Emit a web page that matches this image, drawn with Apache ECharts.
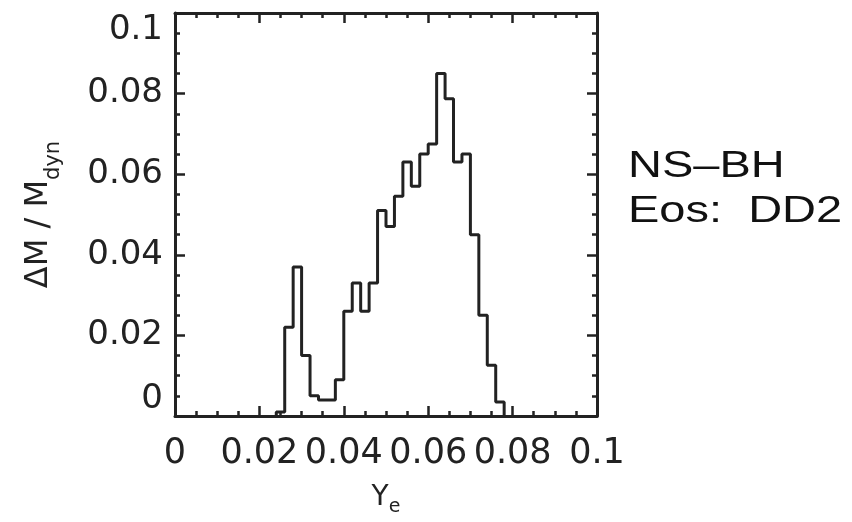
<!DOCTYPE html>
<html>
<head>
<meta charset="utf-8">
<script src="https://cdn.jsdelivr.net/npm/echarts@6/dist/echarts.min.js"></script>
<style>
  html, body { margin: 0; padding: 0; background: #fff; }
  #chart { width: 852px; height: 522px; }
</style>
</head>
<body>
<div id="chart"></div>
<script>
// left edges of the Ye bins (bin width 0.002)
const binStarts = [0.024, 0.026, 0.028, 0.030, 0.032, 0.034, 0.036, 0.038, 0.040, 0.042,
  0.044, 0.046, 0.048, 0.050, 0.052, 0.054, 0.056, 0.058, 0.060, 0.062,
  0.064, 0.066, 0.068, 0.070, 0.072, 0.074, 0.076]
const binEnd = 0.078
// dM / Mdyn per bin
const massFrac = [0.001, 0.022, 0.037, 0.015, 0.005, 0.004, 0.004, 0.009, 0.026, 0.033,
  0.026, 0.033, 0.051, 0.047, 0.0545, 0.063, 0.057, 0.065, 0.0675, 0.085,
  0.0787, 0.063, 0.065, 0.045, 0.025, 0.0126, 0.0035]
const tickLabels = { 0: '0', 0.02: '0.02', 0.04: '0.04', 0.06: '0.06', 0.08: '0.08', 0.1: '0.1' }

const ink = '#222'

// step outline: start on the baseline, one point per bin, back down at the end
const histData = [[binStarts[0], 0]]
binStarts.forEach((x, i) => histData.push([x, massFrac[i]]))
histData.push([binEnd, 0])

const fmt = (v) => tickLabels[+v.toFixed(2)] || ''

function frameAxis(extra) {
  return Object.assign({
    type: 'value',
    min: 0,
    max: 0.1,
    interval: 0.02,
    axisLine: { show: true, onZero: false, lineStyle: { color: ink, width: 3 } },
    axisTick: { show: true, inside: true, length: 10, lineStyle: { color: ink, width: 2.5 } },
    minorTick: { show: true, splitNumber: 4, length: 5, lineStyle: { color: ink, width: 2.5 } },
    splitLine: { show: false },
    axisLabel: { show: false }
  }, extra)
}

const chart = echarts.init(document.getElementById('chart'))
chart.setOption({
  animation: false,
  grid: { left: 175, right: 255, top: 13, bottom: 105 },
  xAxis: [
    frameAxis({
      position: 'bottom',
      axisLabel: {
        show: true,
        margin: 20,
        color: ink,
        fontFamily: 'DejaVu Sans',
        fontSize: 35,
        showMinLabel: true,
        showMaxLabel: true,
        formatter: fmt
      },
      name: '{m|Y}{s|e}',
      nameLocation: 'middle',
      nameGap: 68,
      nameTextStyle: {
        rich: {
          m: { fontFamily: 'DejaVu Sans', fontSize: 28, color: ink, verticalAlign: 'top', lineHeight: 28 },
          s: { fontFamily: 'DejaVu Sans', fontSize: 19, color: ink, verticalAlign: 'top', lineHeight: 19, padding: [14, 0, 0, 0] }
        }
      }
    }),
    frameAxis({ position: 'top' })
  ],
  yAxis: [
    frameAxis({
      position: 'left',
      axisLabel: {
        show: true,
        margin: 12,
        color: ink,
        fontFamily: 'DejaVu Sans',
        fontSize: 34,
        showMinLabel: true,
        showMaxLabel: true,
        verticalAlignMinLabel: 'bottom',
        verticalAlignMaxLabel: 'top',
        formatter: fmt
      },
      name: '{m|ΔM / M}{s|dyn}',
      nameLocation: 'middle',
      nameRotate: 90,
      nameGap: 120,
      nameTextStyle: {
        rich: {
          m: { fontFamily: 'DejaVu Sans', fontSize: 32, color: ink, verticalAlign: 'top', lineHeight: 32 },
          s: { fontFamily: 'DejaVu Sans', fontSize: 21, color: ink, verticalAlign: 'top', lineHeight: 21, padding: [20, 0, 0, 0] }
        }
      }
    }),
    frameAxis({ position: 'right' })
  ],
  graphic: [
    {
      type: 'text',
      x: 628,
      y: 167,
      scaleX: 1.27,
      style: { text: 'NS–BH', fontFamily: 'Liberation Sans', fontSize: 37, fill: '#111', verticalAlign: 'middle' }
    },
    {
      type: 'text',
      x: 628,
      y: 212,
      scaleX: 1.27,
      style: { text: 'Eos:  DD2', fontFamily: 'Liberation Sans', fontSize: 37, fill: '#111', verticalAlign: 'middle' }
    }
  ],
  series: [
    {
      type: 'line',
      step: 'end',
      symbol: 'none',
      silent: true,
      xAxisIndex: 0,
      yAxisIndex: 0,
      lineStyle: { color: ink, width: 3 },
      data: histData
    }
  ]
})
</script>
</body>
</html>
